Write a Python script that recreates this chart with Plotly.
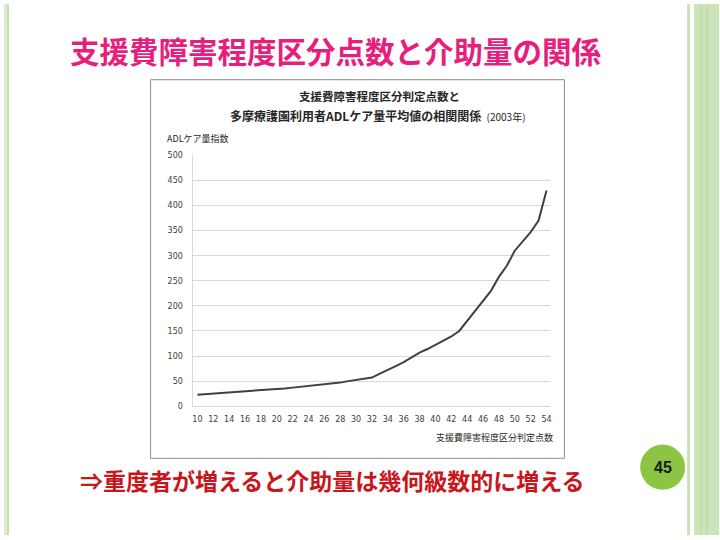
import plotly.graph_objects as go

# Data
scores = list(range(10, 55))
adl_care = [23, 24, 25, 26.5, 28, 29, 30, 31, 32, 33, 34, 35.5, 37, 38.5, 40, 42, 43, 45, 47, 50,
            52, 54, 57, 65, 72, 80, 88, 97, 107, 114, 122, 131, 139, 150, 170, 190, 210, 230, 258,
            280, 310, 328, 347, 370, 430]
x_ticks = list(range(10, 55, 2))
y_ticks = list(range(0, 501, 50))

W, H = 720, 540
def px(x):
    return x / W
def py(y):
    return 1 - y / H

JP = "Noto Sans CJK JP, Noto Sans, sans-serif"

fig = go.Figure()
fig.add_trace(go.Scatter(x=scores, y=adl_care, mode="lines",
                         line=dict(color="#404040", width=2), showlegend=False,
                         hoverinfo="skip"))

shapes = []
# left stripes
shapes.append(dict(type="rect", xref="paper", yref="paper", x0=px(3), x1=px(5), y0=0, y1=1,
                   fillcolor="#d8ecc8", line_width=0, layer="below"))
shapes.append(dict(type="rect", xref="paper", yref="paper", x0=px(5.5), x1=px(8), y0=0, y1=1,
                   fillcolor="#c2e0ad", line_width=0, layer="below"))
# right stripes
shapes.append(dict(type="rect", xref="paper", yref="paper", x0=px(688), x1=px(691), y0=0, y1=1,
                   fillcolor="#c8e4b4", line_width=0, layer="below"))
shapes.append(dict(type="rect", xref="paper", yref="paper", x0=px(695), x1=px(720), y0=0, y1=1,
                   fillcolor="#cbe4b8", line_width=0, layer="below"))
shapes.append(dict(type="rect", xref="paper", yref="paper", x0=px(701), x1=px(702.5), y0=0, y1=1,
                   fillcolor="#bddcaa", line_width=0, layer="below"))
shapes.append(dict(type="rect", xref="paper", yref="paper", x0=px(707), x1=px(708.5), y0=0, y1=1,
                   fillcolor="#bddcaa", line_width=0, layer="below"))
# chart box
shapes.append(dict(type="rect", xref="paper", yref="paper", x0=px(150), x1=px(565), y0=py(462), y1=py(77),
                   fillcolor="rgba(0,0,0,0)", line=dict(color="#8c8c8c", width=1)))
# page number circle
shapes.append(dict(type="circle", xref="paper", yref="paper", x0=px(641), x1=px(686), y0=py(494), y1=py(448),
                   fillcolor="#8cc443", line_width=0))

annotations = [
    dict(text="<b>支援費障害程度区分点数と介助量の関係</b>", x=px(336), y=py(47), xref="paper", yref="paper",
         showarrow=False, font=dict(family=JP, size=29.5, color="#e61e7d"), xanchor="center", yanchor="middle"),
    dict(text="<b>支援費障害程度区分判定点数と</b>", x=px(380), y=py(94), xref="paper", yref="paper",
         showarrow=False, font=dict(family=JP, size=11.5, color="#262626"), xanchor="center", yanchor="middle"),
    dict(text="<b>多摩療護園利用者ADLケア量平均値の相関関係</b>  <span style='font-size:10px'>(2003年)</span>",
         x=px(378), y=py(113), xref="paper", yref="paper",
         showarrow=False, font=dict(family=JP, size=12, color="#262626"), xanchor="center", yanchor="middle"),
    dict(text="ADLケア量指数", x=px(164), y=py(137), xref="paper", yref="paper",
         showarrow=False, font=dict(family=JP, size=9, color="#262626"), xanchor="left", yanchor="middle"),
    dict(text="支援費障害程度区分判定点数", x=px(556), y=py(441), xref="paper", yref="paper",
         showarrow=False, font=dict(family=JP, size=9, color="#262626"), xanchor="right", yanchor="middle"),
    dict(text="<b>⇒重度者が増えると介助量は幾何級数的に増える</b>", x=px(77), y=py(484), xref="paper", yref="paper",
         showarrow=False, font=dict(family=JP, size=23, color="#c8161d"), xanchor="left", yanchor="middle"),
    dict(text="<b>45</b>", x=px(663.5), y=py(471), xref="paper", yref="paper",
         showarrow=False, font=dict(family="Liberation Sans, Arial, sans-serif", size=16, color="#1a1a1a"),
         xanchor="center", yanchor="middle"),
]

fig.update_layout(
    width=W, height=H,
    margin=dict(l=0, r=0, t=0, b=0),
    paper_bgcolor="white", plot_bgcolor="white",
    shapes=shapes, annotations=annotations,
    xaxis=dict(domain=[px(193), px(551)], range=[9.5, 54.5], tickmode="array", tickvals=x_ticks,
               ticktext=[str(v) for v in x_ticks], showgrid=False, zeroline=False,
               showline=True, linecolor="#d9d9d9", linewidth=1, ticks="",
               tickfont=dict(family="DejaVu Sans, sans-serif", size=8, color="#404040"), ticklabelstandoff=5),
    yaxis=dict(domain=[py(409), py(154)], range=[0, 500], tickmode="array", tickvals=y_ticks,
               showgrid=True, gridcolor="#d9d9d9", gridwidth=1, zeroline=False,
               showline=True, linecolor="#d9d9d9", linewidth=1, ticks="",
               tickfont=dict(family="DejaVu Sans, sans-serif", size=8, color="#404040"), ticklabelstandoff=8),
)

fig.write_html("out.html")
